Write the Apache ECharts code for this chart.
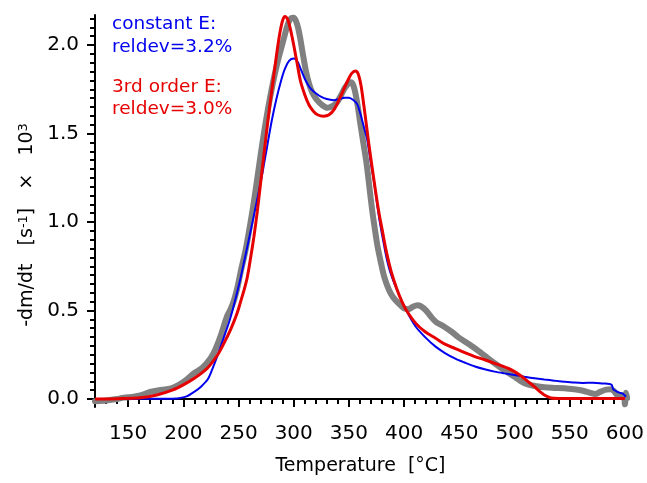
<!DOCTYPE html>
<html>
<head>
<meta charset="utf-8">
<script src="https://cdn.jsdelivr.net/npm/echarts@6/dist/echarts.min.js"></script>
<style>
  html, body { margin: 0; padding: 0; background: #fff; }
  #chart { width: 647px; height: 483px; }
</style>
</head>
<body>
<div id="chart"></div>
<script>
// measured curve (thick grey)
const measured = [
  [120, -0.012], [130, -0.008], [140, 0.0], [146, 0.008], [155, 0.013], [161, 0.02],
  [170, 0.04], [178, 0.05], [185, 0.055], [191, 0.065], [196, 0.08], [203, 0.11],
  [209.8, 0.146], [217, 0.175], [224.7, 0.23], [229, 0.28], [233.6, 0.353], [239.5, 0.466],
  [243, 0.51], [246, 0.56], [249, 0.63], [252, 0.72], [256.5, 0.844], [259, 0.93],
  [262, 1.04], [265, 1.16], [268, 1.29], [271, 1.42], [274, 1.54], [277, 1.65],
  [280, 1.75], [283, 1.84], [286, 1.92], [289, 1.99], [292, 2.06], [294, 2.105],
  [296, 2.138], [298, 2.153], [300, 2.155], [302, 2.137], [304, 2.097], [306, 2.035],
  [308, 1.96], [311, 1.855], [314, 1.78], [317, 1.73], [321, 1.69], [326, 1.66],
  [330.5, 1.646], [335, 1.655], [339, 1.675], [343, 1.718], [346, 1.755], [348, 1.772],
  [350, 1.786], [352, 1.79], [354, 1.772], [356, 1.725], [358, 1.655], [360, 1.57],
  [363, 1.45], [366, 1.33], [368.5, 1.2], [371, 1.07], [373.5, 0.96], [376, 0.86],
  [379, 0.77], [382, 0.69], [386, 0.62], [390, 0.575], [395, 0.54], [400, 0.512],
  [404, 0.508], [408, 0.522], [412, 0.53], [415, 0.525], [420, 0.5], [425, 0.46],
  [429, 0.435], [436, 0.41], [443, 0.38], [449, 0.35], [455, 0.325], [464, 0.287],
  [473, 0.245], [482, 0.202], [491, 0.162], [500, 0.126], [506, 0.1], [512, 0.083],
  [520, 0.072], [527, 0.066], [536, 0.063], [545, 0.061], [554, 0.055], [562, 0.047],
  [568, 0.036], [573, 0.028], [578, 0.042], [583, 0.053], [587, 0.055], [590, 0.045],
  [593, 0.023], [597, 0.02], [599, 0.022], [600, -0.03], [601, 0.035], [602, 0.005]
];

// fit with constant activation energy (blue)
const constantE = [
  [120, 0.0], [160, 0.001], [185, 0.002], [196, 0.005], [203, 0.015], [210, 0.041],
  [216, 0.07], [222, 0.11], [226, 0.165], [230.6, 0.24], [234, 0.3], [238, 0.372],
  [242, 0.445], [245.5, 0.523], [251.5, 0.674], [257.4, 0.844], [261, 0.95], [266, 1.1],
  [271.4, 1.268], [276, 1.43], [280, 1.57], [284.2, 1.693], [288.6, 1.8], [292, 1.865],
  [296, 1.912], [300, 1.924], [302, 1.918], [304, 1.9], [306, 1.87], [308, 1.84],
  [310, 1.81], [313, 1.775], [316, 1.75], [320, 1.728], [325, 1.707], [330, 1.695],
  [336, 1.689], [341, 1.695], [346, 1.702], [350, 1.703], [354, 1.69], [357.6, 1.665],
  [360, 1.62], [363, 1.55], [366.5, 1.467], [370, 1.33], [373.4, 1.2], [375.6, 1.1],
  [378, 1.0], [380.9, 0.9], [384, 0.8], [387.7, 0.712], [393.5, 0.617], [401.7, 0.504],
  [410.4, 0.41], [419, 0.35], [428.5, 0.296], [437, 0.26], [446.4, 0.228], [455.3, 0.205],
  [464.2, 0.184], [473, 0.168], [482, 0.155], [491, 0.145], [500, 0.136], [509, 0.126],
  [518, 0.117], [527, 0.11], [536, 0.104], [545, 0.098], [554, 0.093], [562, 0.091],
  [571, 0.092], [580, 0.088], [586, 0.085], [588, 0.08], [589.5, 0.055], [592, 0.045],
  [595, 0.036], [598, 0.03], [601, 0.013]
];

// fit with 3rd order activation energy (red)
const thirdOrderE = [
  [120, 0.0], [140, 0.002], [161, 0.007], [176, 0.023], [190, 0.05], [200, 0.08],
  [210, 0.117], [221.7, 0.174], [232, 0.259], [238, 0.33], [242.6, 0.39], [246, 0.44],
  [249, 0.49], [251.5, 0.542], [255, 0.615], [258, 0.69], [261, 0.8], [264, 0.92],
  [267, 1.06], [270, 1.22], [273, 1.38], [276, 1.54], [279, 1.69], [282, 1.83],
  [285, 1.97], [287.5, 2.07], [290, 2.14], [292, 2.162], [294.5, 2.145], [297, 2.09],
  [300, 2.0], [303, 1.9], [306, 1.8], [310, 1.72], [314, 1.66], [318, 1.625],
  [322, 1.605], [327, 1.598], [332, 1.606], [337, 1.64], [341, 1.69], [345, 1.745],
  [349, 1.8], [352.5, 1.84], [356, 1.853], [358.5, 1.835], [361, 1.77], [363.5, 1.66],
  [366, 1.54], [368.5, 1.42], [371, 1.31], [374, 1.18], [377, 1.06], [380, 0.96],
  [384, 0.83], [388.3, 0.72], [393.5, 0.62], [398, 0.55], [402, 0.502], [410.4, 0.429],
  [419, 0.38], [428.5, 0.344], [437, 0.31], [446.4, 0.285], [455, 0.262], [464, 0.24],
  [473, 0.222], [482, 0.202], [494, 0.174], [500, 0.155], [506, 0.13], [512, 0.1],
  [518, 0.07], [523, 0.042], [527, 0.023], [533, 0.006], [540, 0.003], [570, 0.003],
  [600, 0.003]
];

const xTicks = [150, 200, 250, 300, 350, 400, 450, 500, 550, 600];
const yTicks = [0, 0.5, 1.0, 1.5, 2.0];
const xMinor = [];
for (let t = 120; t <= 600; t += 10) xMinor.push(t);
const yMinor = [];
for (let i = 0; i <= 43; i++) yMinor.push(+(i * 0.05).toFixed(2));

const legendLines = [
  { text: 'constant E:', color: '#0000ee', y: 26 },
  { text: 'reldev=3.2%', color: '#0000ee', y: 49 },
  { text: '3rd order E:', color: '#e60000', y: 89 },
  { text: 'reldev=3.0%', color: '#e60000', y: 111 }
];

const FONT = 'DejaVu Sans';
const chart = echarts.init(document.getElementById('chart'));

const xRange = { min: 120, max: 601 };
const yRange = { min: -0.045, max: 2.17 };

chart.setOption({
  animation: false,
  textStyle: { fontFamily: FONT },
  grid: { left: 95, right: 14, top: 15, bottom: 76 },
  xAxis: [
    {
      type: 'value', ...xRange, position: 'bottom',
      name: 'Temperature  [°C]', nameLocation: 'middle', nameGap: 50,
      nameTextStyle: { fontSize: 19, color: '#000', fontFamily: FONT },
      axisLine: { lineStyle: { color: '#000', width: 2 } },
      axisTick: { customValues: xTicks, length: 8, lineStyle: { color: '#000', width: 2 } },
      axisLabel: { customValues: xTicks, margin: 17, fontSize: 20, color: '#000', fontFamily: FONT },
      splitLine: { show: false }
    },
    {
      type: 'value', ...xRange, position: 'bottom',
      axisLine: { show: false },
      axisTick: { customValues: xMinor, length: 5, lineStyle: { color: '#000', width: 2 } },
      axisLabel: { show: false },
      splitLine: { show: false }
    }
  ],
  yAxis: [
    {
      type: 'value', ...yRange, position: 'left',
      name: '-dm/dt   [s{sup|-1}]   ×   10{sup|3}', nameLocation: 'middle', nameGap: 56, nameRotate: 90,
      nameTextStyle: {
        fontSize: 19, color: '#000', fontFamily: FONT, padding: [0, 28, 0, 0],
        rich: { sup: { fontSize: 13, color: '#000', fontFamily: FONT, verticalAlign: 'top', lineHeight: 13 } }
      },
      axisLine: { show: true, lineStyle: { color: '#000', width: 2 } },
      axisTick: { show: true, customValues: yTicks, length: 8, lineStyle: { color: '#000', width: 2 } },
      axisLabel: {
        customValues: yTicks, margin: 16, fontSize: 20, color: '#000', fontFamily: FONT,
        formatter: v => v.toFixed(1)
      },
      splitLine: { show: false }
    },
    {
      type: 'value', ...yRange, position: 'left',
      axisLine: { show: false },
      axisTick: { show: true, customValues: yMinor, length: 5, lineStyle: { color: '#000', width: 2 } },
      axisLabel: { show: false },
      splitLine: { show: false }
    }
  ],
  series: [
    {
      name: 'measured', type: 'line', data: measured, smooth: 0.3, symbol: 'none',
      lineStyle: { color: '#808080', width: 6, cap: 'round', join: 'round' }, z: 2
    },
    {
      name: 'constant E', type: 'line', data: constantE, smooth: 0.3, symbol: 'none',
      lineStyle: { color: '#0000ee', width: 2 }, z: 3
    },
    {
      name: '3rd order E', type: 'line', data: thirdOrderE, smooth: 0.3, symbol: 'none',
      lineStyle: { color: '#e60000', width: 3 }, z: 4
    }
  ],
  graphic: legendLines.map(l => ({
    type: 'text', left: 112, top: l.y - 11,
    style: { text: l.text, fill: l.color, fontSize: 18.5, fontFamily: FONT }
  }))
});
</script>
</body>
</html>
